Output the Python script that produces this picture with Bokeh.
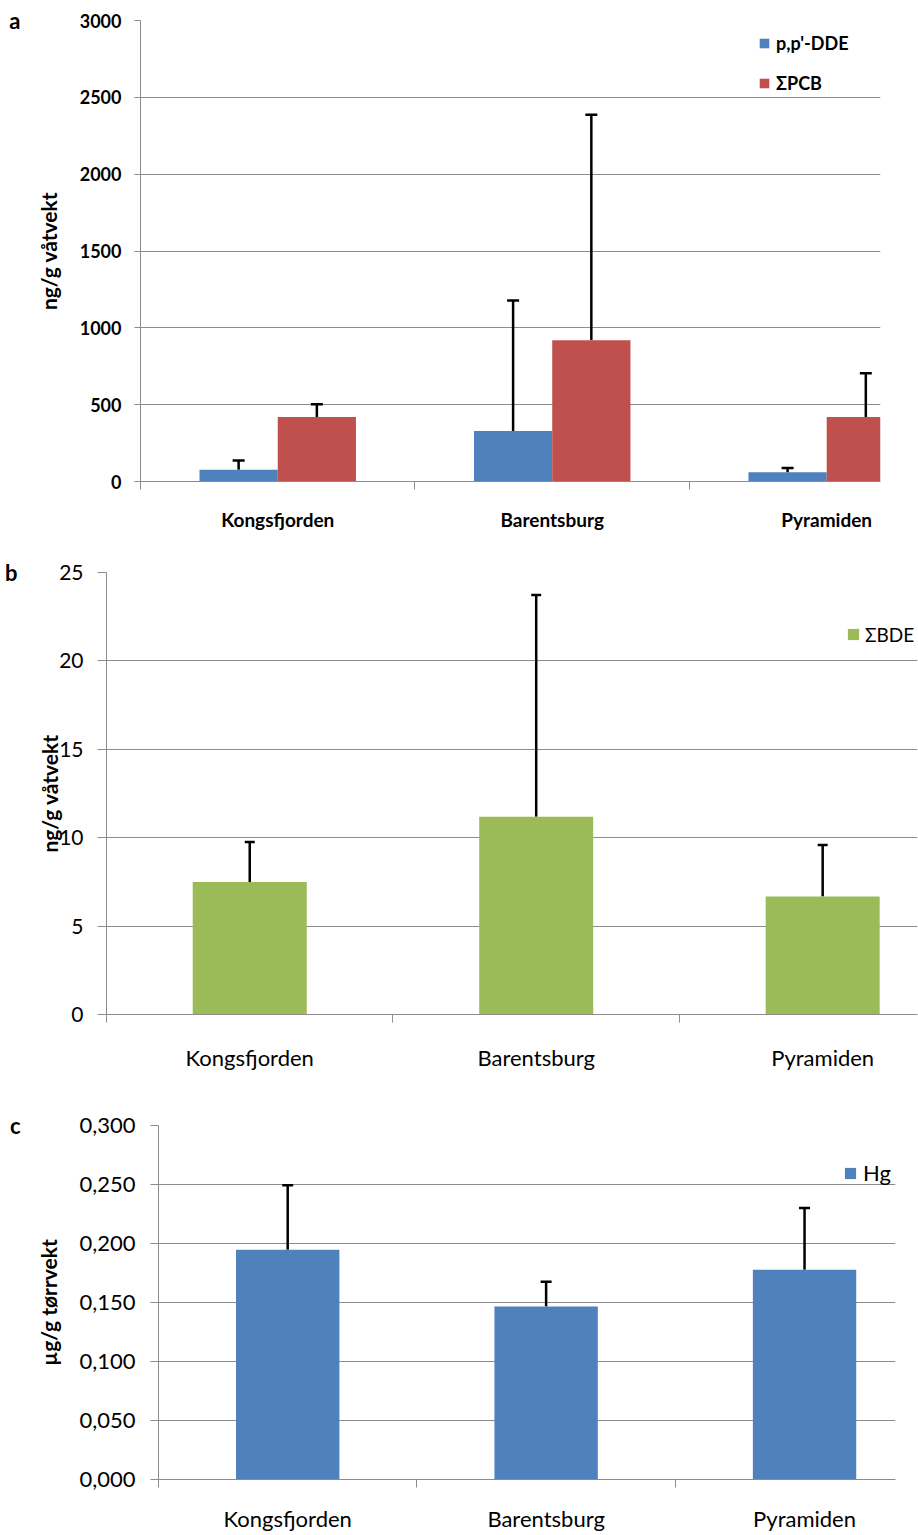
from bokeh.plotting import figure
from bokeh.models import (Range1d, FixedTicker, Whisker, TeeHead, Legend, LegendItem,
                          LinearAxis, ColumnDataSource, CustomJSTickFormatter)
from bokeh.transform import dodge
from bokeh.embed import file_html
from bokeh.resources import INLINE

# ---------------- data ----------------
sites = ["Kongsfjorden", "Barentsburg", "Pyramiden"]

dde_mean = [76, 328, 60]
dde_sd = [61, 850, 28]
pcb_mean = [419, 919, 419]
pcb_sd = [83, 1467, 286]

bde_mean = [7.49, 11.19, 6.68]
bde_sd = [2.26, 12.54, 2.91]

hg_mean = [0.1946, 0.1466, 0.1777]
hg_sd = [0.0548, 0.0209, 0.0523]

yticks_a = [0, 500, 1000, 1500, 2000, 2500, 3000]
yticks_b = [0, 5, 10, 15, 20, 25]
yticks_c = [0.0, 0.05, 0.10, 0.15, 0.20, 0.25, 0.30]

FONT = "Lato"
GRID = "#8c8c8c"
BLUE = "#4f81bd"
RED = "#c0504d"
GREEN = "#9bbb59"


def base_fig(width, height, bl, br, bt, bb, xend, ymax, yticks,
             tick_size, bold, tick_out, ystand, xsize, xstand,
             ylabel, ylabel_size, ylabel_stand):
    p = figure(width=width, height=height,
               x_range=Range1d(-0.5, xend), y_range=Range1d(0, ymax),
               output_backend="svg", toolbar_location=None, tools="",
               min_border_left=bl, min_border_right=br,
               min_border_top=bt, min_border_bottom=bb)
    p.outline_line_color = None
    p.background_fill_color = "white"
    p.border_fill_color = "white"
    p.xgrid.visible = False
    p.ygrid.ticker = FixedTicker(ticks=yticks)
    p.ygrid.grid_line_color = GRID
    p.ygrid.grid_line_width = 1

    ya = p.yaxis[0]
    ya.ticker = FixedTicker(ticks=yticks)
    ya.axis_line_color = GRID
    ya.major_tick_line_color = GRID
    ya.major_tick_out = tick_out
    ya.major_tick_in = 0
    ya.minor_tick_line_color = None
    ya.major_label_text_font = FONT
    ya.major_label_text_font_size = tick_size
    ya.major_label_text_font_style = "bold" if bold else "normal"
    ya.major_label_text_color = "black"
    ya.major_label_standoff = ystand
    ya.axis_label = ylabel
    ya.axis_label_text_font = FONT
    ya.axis_label_text_font_size = ylabel_size
    ya.axis_label_text_font_style = "bold"
    ya.axis_label_text_color = "black"
    ya.axis_label_standoff = ylabel_stand

    n = len(sites)
    xa = p.xaxis[0]
    xa.ticker = FixedTicker(ticks=list(range(n)),
                            minor_ticks=[i - 0.5 for i in range(n + 1)])
    xa.major_label_overrides = {i: s for i, s in enumerate(sites)}
    xa.axis_line_color = GRID
    xa.major_tick_line_color = None
    xa.major_tick_out = 0
    xa.major_tick_in = 0
    xa.minor_tick_line_color = GRID
    xa.minor_tick_out = 8
    xa.minor_tick_in = 0
    xa.major_label_text_font = FONT
    xa.major_label_text_font_size = xsize
    xa.major_label_text_font_style = "bold" if bold else "normal"
    xa.major_label_text_color = "black"
    xa.major_label_standoff = xstand
    return p


def panel_letter(p, letter, ymax, standoff):
    ax = LinearAxis(ticker=FixedTicker(ticks=[ymax]),
                    formatter=CustomJSTickFormatter(code="return '%s';" % letter),
                    axis_line_color=None, major_tick_line_color=None,
                    minor_tick_line_color=None, major_tick_out=0, major_tick_in=0,
                    major_label_standoff=standoff, major_label_text_font=FONT,
                    major_label_text_font_size="22px",
                    major_label_text_font_style="bold",
                    major_label_text_color="black")
    p.add_layout(ax, "left")


# ---------------- panel a ----------------
src_a = ColumnDataSource(dict(
    x=list(range(len(sites))),
    dde=dde_mean, dde_hi=[m + s for m, s in zip(dde_mean, dde_sd)],
    pcb=pcb_mean, pcb_hi=[m + s for m, s in zip(pcb_mean, pcb_sd)],
))
pa = base_fig(918, 545, 140, 38, 20, 64, 2.196, 3000, yticks_a,
              "18px", True, 6, 13, "19px", 18, "ng/g våtvekt", "21px", 16)
bw = 0.285
r_dde = pa.vbar(x=dodge("x", -bw / 2, range=pa.x_range), top="dde", width=bw,
                source=src_a, fill_color=BLUE, line_color=None)
r_pcb = pa.vbar(x=dodge("x", bw / 2, range=pa.x_range), top="pcb", width=bw,
                source=src_a, fill_color=RED, line_color=None)
for xs, lo, hi in [(-bw / 2, "dde", "dde_hi"), (bw / 2, "pcb", "pcb_hi")]:
    pa.add_layout(Whisker(base=dodge("x", xs, range=pa.x_range), lower=lo, upper=hi,
                          source=src_a, dimension="height", line_color="black",
                          line_width=2.5, lower_head=None,
                          upper_head=TeeHead(size=12, line_width=2.5, line_color="black")))
leg_a = Legend(items=[LegendItem(label="p,p'-DDE", renderers=[r_dde]),
                      LegendItem(label="ΣPCB", renderers=[r_pcb])],
               location=(618, 387), padding=0, spacing=18,
               glyph_width=12, glyph_height=12, label_standoff=6, label_height=22,
               label_text_font=FONT, label_text_font_size="18px",
               label_text_font_style="bold", label_text_color="black",
               border_line_color=None, background_fill_alpha=0)
pa.add_layout(leg_a)
panel_letter(pa, "a", yticks_a[-1], 12)

# ---------------- panel b ----------------
src_b = ColumnDataSource(dict(
    x=list(range(len(sites))), bde=bde_mean,
    bde_hi=[m + s for m, s in zip(bde_mean, bde_sd)],
))
pb = base_fig(918, 550, 106, 1, 27, 81, 2.331, 25, yticks_b,
              "21px", False, 9, 14, "22px", 21, "ng/g våtvekt", "21px", -6)
r_bde = pb.vbar(x="x", top="bde", width=0.398, source=src_b,
                fill_color=GREEN, line_color=None)
pb.add_layout(Whisker(base="x", lower="bde", upper="bde_hi", source=src_b,
                      dimension="height", line_color="black", line_width=2.5,
                      lower_head=None,
                      upper_head=TeeHead(size=10, line_width=2.5, line_color="black")))
leg_b = Legend(items=[LegendItem(label="ΣBDE", renderers=[r_bde])],
               location=(740, 368), padding=0,
               glyph_width=14, glyph_height=14, label_standoff=5, label_height=24,
               label_text_font=FONT, label_text_font_size="19px",
               label_text_color="black",
               border_line_color=None, background_fill_alpha=0)
pb.add_layout(leg_b)
panel_letter(pb, "b", yticks_b[-1], 17)

# ---------------- panel c ----------------
src_c = ColumnDataSource(dict(
    x=list(range(len(sites))), hg=hg_mean,
    hg_hi=[m + s for m, s in zip(hg_mean, hg_sd)],
))
pc = base_fig(918, 439, 158, 23, 30, 55, 2.352, 0.30, yticks_c,
              "22px", False, 8, 15, "22px", 17, "µg/g tørrvekt", "21px", 15)
pc.yaxis[0].formatter = CustomJSTickFormatter(
    code="return tick.toFixed(3).replace('.', ',');")
r_hg = pc.vbar(x="x", top="hg", width=0.40, source=src_c,
               fill_color=BLUE, line_color=None)
pc.add_layout(Whisker(base="x", lower="hg", upper="hg_hi", source=src_c,
                      dimension="height", line_color="black", line_width=2.5,
                      lower_head=None,
                      upper_head=TeeHead(size=11, line_width=2.5, line_color="black")))
leg_c = Legend(items=[LegendItem(label="Hg", renderers=[r_hg])],
               location=(685, 293), padding=0,
               glyph_width=14, glyph_height=14, label_standoff=6, label_height=26,
               label_text_font=FONT, label_text_font_size="22px",
               label_text_color="black",
               border_line_color=None, background_fill_alpha=0)
pc.add_layout(leg_c)
panel_letter(pc, "c", yticks_c[-1], 13)

open("out.html", "w").write(file_html([pa, pb, pc], INLINE))
